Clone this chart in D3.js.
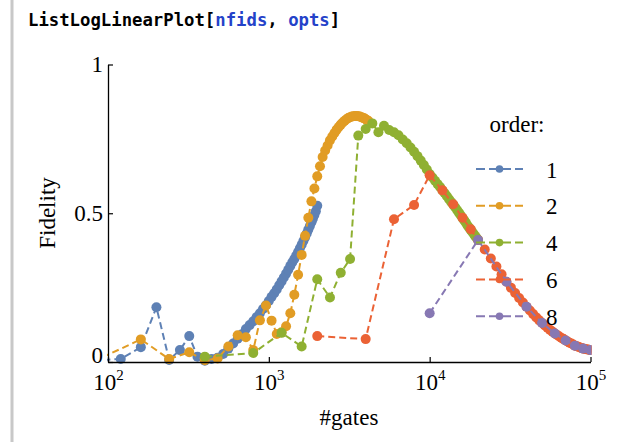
<!DOCTYPE html>
<html><head><meta charset="utf-8">
<script src="https://cdn.jsdelivr.net/npm/d3@7"></script>
<style>body{margin:0;background:#fff;} svg{display:block}</style>
</head><body><svg id="c" width="618" height="442"></svg>
<script>
// ---------- data ----------
const orderLabels = ["1", "2", "4", "6", "8"];
const seriesColors = ["#5E81B5", "#E19C24", "#8FB032", "#EB6235", "#8778B3"];

const gates1 = [80,120,160,200,240,280,320,360,400,440,480,520,560,600,640,680,720,760,800,840,880,920,960,1000,1040,1080,1120,1160,1200,1240,1280,1320,1360,1400,1440,1480,1520,1560,1600,1640,1680,1720,1760,1800,1840,1880,1920,1960,2000];
const fid1 = [0.005,0.01,0.05,0.184,0.007,0.04,0.087,0.018,0.004,0.01,
  0.014,0.027,0.045,0.062,0.078,0.093,0.111,0.124,0.137,0.151,
  0.164,0.178,0.191,0.205,0.219,0.231,0.244,0.258,0.271,0.284,
  0.297,0.31,0.323,0.335,0.346,0.358,0.37,0.382,0.394,0.407,
  0.419,0.432,0.445,0.457,0.47,0.482,0.494,0.507,0.525];

const gates2 = [80,160,240,320,400,480,560,640,720,800,880,960,1040,1120,1200,1280,1360,1440,1520,1600,1680,1760,1840,1920,2000,2080,2160,2240,2320,2400,2480,2560,2640,2720,2800,2880,2960,3040,3120,3200,3280,3360,3440,3520,3600,3680,3760,3840,3920,4000,4080,4160];
const fid2 = [0,0.076,0.01,0.033,0.006,0.012,0.052,0.09,0.083,0.04,
  0.14,0.19,0.139,0.094,0.1,0.12,0.164,0.226,0.293,0.36,
  0.424,0.485,0.54,0.583,0.624,0.658,0.689,0.711,0.728,0.745,
  0.758,0.77,0.781,0.79,0.798,0.805,0.811,0.816,0.82,0.823,
  0.825,0.826,0.827,0.827,0.826,0.825,0.823,0.821,0.819,0.816,
  0.813,0.81];

const gates4 = [400,800,1200,1600,2000,2400,2800,3200,3600,4000,4400,4800,5200,5600,6000,6400,6800,7200,7600,8000,8400,8800,9200,9600,10000,10400,10800,11200,11600,12000,12400,12800,13200,13600,14000,14400,14800,15200,15600,16000,16400,16800,17200,17600,18000,18400,18800,19200,19600,20000];
const fid4 = [0.018,0.03,0.098,0.052,0.278,0.217,0.30,0.346,0.761,0.783,
  0.802,0.772,0.794,0.78,0.772,0.762,0.748,0.735,0.721,0.707,
  0.692,0.677,0.662,0.647,0.632,0.62,0.609,0.598,0.588,0.577,
  0.567,0.557,0.547,0.538,0.529,0.52,0.511,0.502,0.493,0.484,
  0.476,0.468,0.459,0.451,0.444,0.437,0.43,0.423,0.417,0.41];

const gates6 = [2000,4000,6000,8000,10000,12000,14000,16000,18000,20000,22000,24000,26000,28000,30000,32000,34000,36000,38000,40000,42000,44000,46000,48000,50000,52000,54000,56000,58000,60000,62000,64000,66000,68000,70000,72000,74000,76000,78000,80000,82000,84000,86000,88000,90000,92000,94000,96000,98000,100000];
const fid6 = [0.087,0.077,0.48,0.528,0.628,0.577,0.53,0.485,0.446,0.41,
  0.378,0.348,0.321,0.295,0.27,0.25,0.232,0.215,0.2,0.186,
  0.173,0.161,0.15,0.14,0.131,0.123,0.115,0.108,0.102,0.096,
  0.091,0.086,0.081,0.077,0.072,0.069,0.065,0.062,0.059,0.055,
  0.053,0.051,0.049,0.047,0.045,0.044,0.043,0.042,0.041,0.04];

const gates8 = [10000,20000,30000,40000,50000,60000,70000,80000,90000,100000];
const fid8 = [0.164,0.41,0.27,0.186,0.131,0.096,0.072,0.055,0.045,0.04];

const xTicks = [100, 1000, 10000, 100000];
const xTickExp = ["2", "3", "4", "5"];
const yTicks = [0, 0.5, 1];
const yTickLabels = ["0", "0.5", "1"];

const allGates = [gates1, gates2, gates4, gates6, gates8];
const allFids = [fid1, fid2, fid4, fid6, fid8];

// ---------- drawing ----------
const svg = d3.select("#c");
const serif = "'Liberation Serif', 'DejaVu Serif', serif";

svg.append("rect").attr("x", 10.5).attr("y", 0).attr("width", 3).attr("height", 442).attr("fill", "#c8c8c8");

const title = svg.append("text").attr("x", 28).attr("y", 26)
  .attr("font-family", "'DejaVu Sans Mono', monospace").attr("font-size", 17.3)
  .attr("font-weight", "bold").attr("fill", "#000");
title.append("tspan").text("ListLogLinearPlot[");
title.append("tspan").attr("fill", "#2442c9").text("nfids");
title.append("tspan").text(", ");
title.append("tspan").attr("fill", "#2442c9").text("opts");
title.append("tspan").text("]");

const x = d3.scaleLog().domain([100, 100000]).range([108, 590.5]);
const y = d3.scaleLinear().domain([0, 1]).range([362, 64.5]);

svg.append("defs").append("clipPath").attr("id", "clip")
  .append("rect").attr("x", 107).attr("y", 40).attr("width", 484.5).attr("height", 330);

const plot = svg.append("g").attr("clip-path", "url(#clip)");
const line = d3.line().x(d => x(d[0])).y(d => y(d[1]));

allGates.forEach((g, i) => {
  const pts = g.map((v, j) => [v, allFids[i][j]]);
  plot.append("path").datum(pts).attr("d", line)
    .attr("fill", "none").attr("stroke", seriesColors[i])
    .attr("stroke-width", 2).attr("stroke-dasharray", "7,4");
  plot.append("g").selectAll("circle").data(pts).join("circle")
    .attr("cx", d => x(d[0])).attr("cy", d => y(d[1])).attr("r", 5)
    .attr("fill", seriesColors[i]);
});

// axes
const yAxis = d3.axisLeft(y).tickValues(yTicks).tickSizeInner(-5).tickSizeOuter(0).tickPadding(5)
  .tickFormat((d, i) => yTickLabels[i]);
const gy = svg.append("g").attr("transform", "translate(108,0)").call(yAxis);
gy.select(".domain").attr("stroke", "#000").attr("stroke-width", 1.3);
gy.selectAll(".tick line").attr("stroke", "#000").attr("stroke-width", 1.2);
gy.selectAll("text").attr("font-family", serif).attr("font-size", 23).attr("fill", "#000")
  .attr("dy", (d) => d === 0 ? "0.02em" : "0.32em");

const xAxis = d3.axisBottom(x).tickValues(xTicks).tickSizeInner(-5).tickSizeOuter(0).tickFormat(() => "");
const gx = svg.append("g").attr("transform", "translate(0,362)").call(xAxis);
gx.select(".domain").attr("stroke", "#000").attr("stroke-width", 1.3);
gx.selectAll(".tick line").attr("stroke", "#000").attr("stroke-width", 1.2);
gx.selectAll(".tick text").each(function(d, i) {
  const t = d3.select(this).attr("y", 28).attr("dy", 0).attr("font-family", serif)
    .attr("font-size", 23).attr("fill", "#000");
  t.append("tspan").text("10");
  t.append("tspan").attr("font-size", 15).attr("dy", -10).text(xTickExp[i]);
});

// axis labels
svg.append("text").attr("transform", "translate(55,213) rotate(-90)")
  .attr("text-anchor", "middle").attr("font-family", serif).attr("font-size", 23)
  .text("Fidelity");
svg.append("text").attr("x", 349).attr("y", 425).attr("text-anchor", "middle")
  .attr("font-family", serif).attr("font-size", 23).text("#gates");

// legend
const legend = svg.append("g");
legend.append("text").attr("x", 517).attr("y", 132).attr("text-anchor", "middle")
  .attr("font-family", serif).attr("font-size", 23).text("order:");
const rowY = d3.scalePoint().domain(orderLabels).range([169, 316.2]);
orderLabels.forEach((lab, i) => {
  const ry = rowY(lab);
  legend.append("line").attr("x1", 476).attr("x2", 523).attr("y1", ry).attr("y2", ry)
    .attr("stroke", seriesColors[i]).attr("stroke-width", 2).attr("stroke-dasharray", "9,4");
  legend.append("circle").attr("cx", 499.5).attr("cy", ry).attr("r", 3.8).attr("fill", seriesColors[i]);
  legend.append("text").attr("x", 546).attr("y", ry + 8.5).attr("font-family", serif)
    .attr("font-size", 23).text(lab);
});
</script></body></html>
